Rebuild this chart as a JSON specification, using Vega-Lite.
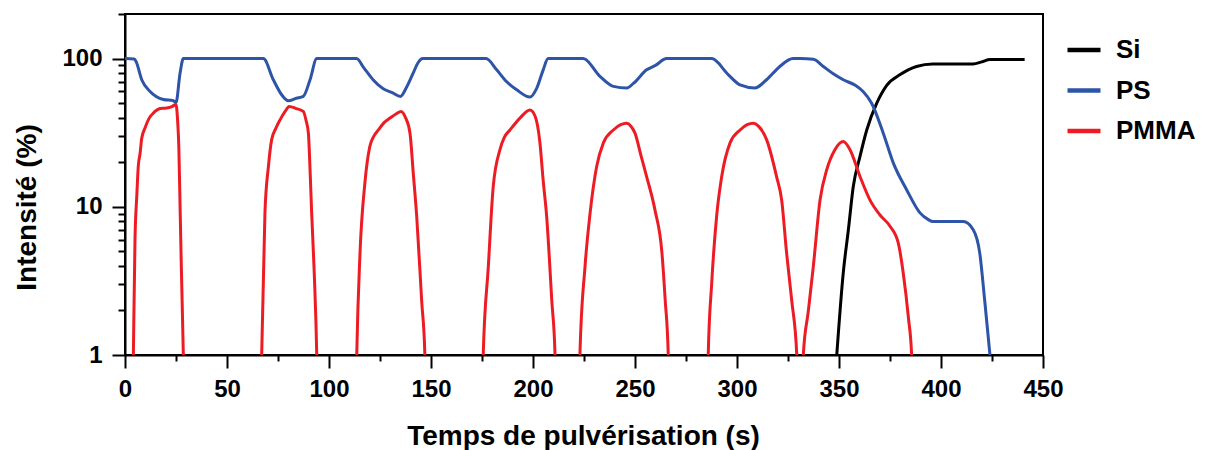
{
  "$schema": "https://vega.github.io/schema/vega-lite/v6.json",
  "width": 918,
  "height": 341,
  "autosize": {"type": "none"},
  "padding": {"left": 125, "top": 14, "right": 163, "bottom": 95},
  "background": "white",
  "config": {
    "view": {"stroke": "black", "strokeWidth": 2},
    "axis": {
      "domainColor": "black", "domainWidth": 2, "tickColor": "black", "tickWidth": 2,
      "labelFont": "Liberation Sans", "labelFontWeight": "bold", "labelFontSize": 24, "labelColor": "black",
      "titleFont": "Liberation Sans", "titleFontWeight": "bold", "titleFontSize": 28, "titleColor": "black",
      "grid": false, "labelOverlap": false, "labelFlush": false
    },
    "legend": {
      "labelFont": "Liberation Sans", "labelFontWeight": "bold", "labelFontSize": 26, "labelColor": "black"
    }
  },
  "data": {"values": [
    {"s":"Si","t":348.9,"v":1},{"s":"Si","t":352.1,"v":3.6},{"s":"Si","t":354.6,"v":7},{"s":"Si","t":357,"v":13.7},{"s":"Si","t":360.3,"v":21.9},{"s":"Si","t":363.6,"v":33},{"s":"Si","t":368.5,"v":50},{"s":"Si","t":373.4,"v":66},{"s":"Si","t":380,"v":78},{"s":"Si","t":388,"v":88.5},{"s":"Si","t":396,"v":92},{"s":"Si","t":415.7,"v":92},{"s":"Si","t":420,"v":95},{"s":"Si","t":424,"v":98.5},{"s":"Si","t":441,"v":98.5},

    {"s":"PS","t":0,"v":100},{"s":"PS","t":4.5,"v":99.5},{"s":"PS","t":5.5,"v":95},{"s":"PS","t":8.2,"v":72},{"s":"PS","t":12.3,"v":60},{"s":"PS","t":18.8,"v":53},{"s":"PS","t":23.7,"v":52},{"s":"PS","t":25,"v":50.5},{"s":"PS","t":27,"v":80},{"s":"PS","t":28.6,"v":100},
    {"s":"PS","t":67.8,"v":100},{"s":"PS","t":72.7,"v":72},{"s":"PS","t":76.8,"v":57},{"s":"PS","t":80,"v":52},{"s":"PS","t":84,"v":54},{"s":"PS","t":87.4,"v":55.6},{"s":"PS","t":90.7,"v":72},{"s":"PS","t":94,"v":100},
    {"s":"PS","t":113.5,"v":100},{"s":"PS","t":117,"v":87},{"s":"PS","t":121.6,"v":72},{"s":"PS","t":126.6,"v":62.5},{"s":"PS","t":131,"v":59},{"s":"PS","t":135,"v":55.6},{"s":"PS","t":138,"v":64},{"s":"PS","t":141.3,"v":80},{"s":"PS","t":143.5,"v":93},{"s":"PS","t":146,"v":100},
    {"s":"PS","t":177,"v":100},{"s":"PS","t":182.2,"v":84},{"s":"PS","t":187,"v":70},{"s":"PS","t":192,"v":61.6},{"s":"PS","t":198.5,"v":55},{"s":"PS","t":201.8,"v":63},{"s":"PS","t":205,"v":84},{"s":"PS","t":207.4,"v":100},
    {"s":"PS","t":224.6,"v":100},{"s":"PS","t":232.8,"v":76},{"s":"PS","t":239.4,"v":65},{"s":"PS","t":246,"v":63.4},{"s":"PS","t":249.2,"v":68},{"s":"PS","t":255.7,"v":84},{"s":"PS","t":260,"v":90},{"s":"PS","t":265.5,"v":100},
    {"s":"PS","t":287.6,"v":100},{"s":"PS","t":295.7,"v":78},{"s":"PS","t":301.5,"v":66.5},{"s":"PS","t":308.8,"v":63.4},{"s":"PS","t":314.5,"v":72},{"s":"PS","t":321,"v":88.5},{"s":"PS","t":327.5,"v":100},
    {"s":"PS","t":331,"v":100},{"s":"PS","t":337.4,"v":99},{"s":"PS","t":342.3,"v":88.5},{"s":"PS","t":347.2,"v":79},{"s":"PS","t":352.1,"v":72},{"s":"PS","t":358,"v":66},{"s":"PS","t":361.8,"v":60},{"s":"PS","t":366,"v":50},{"s":"PS","t":371.7,"v":31.4},{"s":"PS","t":376.6,"v":19.8},{"s":"PS","t":383.2,"v":13},{"s":"PS","t":389.7,"v":9.1},{"s":"PS","t":393.8,"v":8.2},{"s":"PS","t":396,"v":7.95},{"s":"PS","t":410.9,"v":7.95},{"s":"PS","t":415.8,"v":7},{"s":"PS","t":419,"v":4.87},{"s":"PS","t":421.4,"v":2.35},{"s":"PS","t":424,"v":1},

    {"s":"PMMA","t":0,"v":0.5},{"s":"PMMA","t":3.8,"v":0.5},{"s":"PMMA","t":4.1,"v":1},{"s":"PMMA","t":4.9,"v":6},{"s":"PMMA","t":5.8,"v":12},{"s":"PMMA","t":6.5,"v":18.7},{"s":"PMMA","t":7.4,"v":23},{"s":"PMMA","t":8.2,"v":29},{"s":"PMMA","t":9.8,"v":34},{"s":"PMMA","t":11.8,"v":39.5},{"s":"PMMA","t":14,"v":43},{"s":"PMMA","t":17.2,"v":46},{"s":"PMMA","t":20.4,"v":46.4},{"s":"PMMA","t":23,"v":47.5},{"s":"PMMA","t":25,"v":49},{"s":"PMMA","t":25.8,"v":38},{"s":"PMMA","t":26.4,"v":25},{"s":"PMMA","t":27,"v":10},{"s":"PMMA","t":27.6,"v":4},{"s":"PMMA","t":28.6,"v":1},{"s":"PMMA","t":29,"v":0.5},
    {"s":"PMMA","t":66.6,"v":0.5},{"s":"PMMA","t":67,"v":1},{"s":"PMMA","t":68.6,"v":9.1},{"s":"PMMA","t":70.3,"v":18.7},{"s":"PMMA","t":71.9,"v":28.4},{"s":"PMMA","t":74,"v":34},{"s":"PMMA","t":76,"v":38.6},{"s":"PMMA","t":78.5,"v":44},{"s":"PMMA","t":80.5,"v":47.5},{"s":"PMMA","t":84,"v":46},{"s":"PMMA","t":87.4,"v":44},{"s":"PMMA","t":88.8,"v":38},{"s":"PMMA","t":89.9,"v":31.4},{"s":"PMMA","t":90.7,"v":18},{"s":"PMMA","t":91.5,"v":9.1},{"s":"PMMA","t":92.8,"v":3.5},{"s":"PMMA","t":94,"v":1},{"s":"PMMA","t":94.4,"v":0.5},
    {"s":"PMMA","t":113.2,"v":0.5},{"s":"PMMA","t":113.6,"v":1},{"s":"PMMA","t":115.2,"v":4.87},{"s":"PMMA","t":117.6,"v":14.5},{"s":"PMMA","t":120,"v":25.5},{"s":"PMMA","t":122,"v":30},{"s":"PMMA","t":124.2,"v":33},{"s":"PMMA","t":127,"v":37},{"s":"PMMA","t":129.9,"v":39.7},{"s":"PMMA","t":133,"v":42.5},{"s":"PMMA","t":135.3,"v":44},{"s":"PMMA","t":137.5,"v":40},{"s":"PMMA","t":139.7,"v":31.4},{"s":"PMMA","t":141.3,"v":16.9},{"s":"PMMA","t":143,"v":8.6},{"s":"PMMA","t":145.4,"v":2.35},{"s":"PMMA","t":147,"v":1},{"s":"PMMA","t":147.4,"v":0.5},
    {"s":"PMMA","t":175.2,"v":0.5},{"s":"PMMA","t":175.6,"v":1},{"s":"PMMA","t":178.1,"v":3.95},{"s":"PMMA","t":180.5,"v":13.7},{"s":"PMMA","t":183.8,"v":24.3},{"s":"PMMA","t":186,"v":29.5},{"s":"PMMA","t":188.7,"v":33},{"s":"PMMA","t":193.6,"v":39.7},{"s":"PMMA","t":198.5,"v":45},{"s":"PMMA","t":201,"v":41},{"s":"PMMA","t":203.4,"v":27},{"s":"PMMA","t":205,"v":15},{"s":"PMMA","t":206.7,"v":8.6},{"s":"PMMA","t":209.2,"v":2.35},{"s":"PMMA","t":210.8,"v":1},{"s":"PMMA","t":211.2,"v":0.5},
    {"s":"PMMA","t":222.6,"v":0.5},{"s":"PMMA","t":223,"v":1},{"s":"PMMA","t":225.5,"v":3.95},{"s":"PMMA","t":228,"v":9.1},{"s":"PMMA","t":231.2,"v":18.7},{"s":"PMMA","t":234.5,"v":27},{"s":"PMMA","t":239.4,"v":33},{"s":"PMMA","t":243,"v":35.8},{"s":"PMMA","t":245.9,"v":36.6},{"s":"PMMA","t":248,"v":35},{"s":"PMMA","t":250,"v":31.4},{"s":"PMMA","t":253,"v":22},{"s":"PMMA","t":255.7,"v":16},{"s":"PMMA","t":259.8,"v":9.5},{"s":"PMMA","t":263.2,"v":4.9},{"s":"PMMA","t":264.8,"v":2.35},{"s":"PMMA","t":266.3,"v":1},{"s":"PMMA","t":266.7,"v":0.5},
    {"s":"PMMA","t":285.5,"v":0.5},{"s":"PMMA","t":285.9,"v":1},{"s":"PMMA","t":287.6,"v":3.05},{"s":"PMMA","t":290,"v":8.6},{"s":"PMMA","t":292.5,"v":16},{"s":"PMMA","t":296.6,"v":27},{"s":"PMMA","t":301.5,"v":33},{"s":"PMMA","t":305,"v":35.8},{"s":"PMMA","t":308,"v":36.6},{"s":"PMMA","t":310.5,"v":35},{"s":"PMMA","t":314.5,"v":28.4},{"s":"PMMA","t":319.4,"v":16},{"s":"PMMA","t":321.9,"v":11.1},{"s":"PMMA","t":324.3,"v":4.9},{"s":"PMMA","t":326.8,"v":2.35},{"s":"PMMA","t":329.3,"v":1},{"s":"PMMA","t":329.8,"v":0.5},
    {"s":"PMMA","t":332.1,"v":0.5},{"s":"PMMA","t":332.5,"v":1},{"s":"PMMA","t":335,"v":2},{"s":"PMMA","t":337.4,"v":3.95},{"s":"PMMA","t":340.7,"v":11.1},{"s":"PMMA","t":344,"v":17.8},{"s":"PMMA","t":348,"v":24.3},{"s":"PMMA","t":352.1,"v":27.6},{"s":"PMMA","t":355.4,"v":24.3},{"s":"PMMA","t":360.3,"v":16},{"s":"PMMA","t":365.2,"v":11.1},{"s":"PMMA","t":370.1,"v":8.8},{"s":"PMMA","t":375,"v":7.4},{"s":"PMMA","t":379.1,"v":5.67},{"s":"PMMA","t":381.5,"v":3.56},{"s":"PMMA","t":384,"v":1.8},{"s":"PMMA","t":385.6,"v":1},{"s":"PMMA","t":386,"v":0.5}
  ]},
  "mark": {"type": "line", "clip": true, "strokeWidth": 3, "interpolate": "monotone"},
  "encoding": {
    "x": {
      "field": "t", "type": "quantitative",
      "scale": {"domain": [0, 450], "nice": false, "zero": false},
      "axis": {
        "title": "Temps de pulvérisation (s)",
        "values": [0,25,50,75,100,125,150,175,200,225,250,275,300,325,350,375,400,425,450],
        "labelExpr": "datum.value % 50 === 0 ? datum.label : ''",
        "tickSize": {"condition": {"test": "datum.value % 50 === 0", "value": 13}, "value": 6},
        "labelPadding": 9,
        "titleX": 458, "titleY": 89, "titleBaseline": "alphabetic", "titleAnchor": "middle"
      }
    },
    "y": {
      "field": "v", "type": "quantitative",
      "scale": {"type": "log", "domain": [1, 200], "nice": false},
      "axis": {
        "title": "Intensité (%)",
        "values": [1,2,3,4,5,6,7,8,9,10,20,30,40,50,60,70,80,90,100,200],
        "labelExpr": "(datum.value == 1 || datum.value == 10 || datum.value == 100) ? ('' + datum.value) : ''",
        "tickSize": {"condition": {"test": "datum.value == 1 || datum.value == 10 || datum.value == 100", "value": 13}, "value": 7},
        "labelPadding": 10,
        "titleX": -98, "titleY": 193, "titleBaseline": "middle", "titleAlign": "center", "titleAngle": -90
      }
    },
    "color": {
      "field": "s", "type": "nominal",
      "scale": {"domain": ["Si", "PS", "PMMA"], "range": ["#000000", "#2E54A8", "#ED1C24"]},
      "legend": {
        "title": null, "orient": "none", "legendX": 940, "legendY": 17,
        "symbolType": "stroke", "symbolSize": 1089, "symbolStrokeWidth": 4.5,
        "labelOffset": 13, "rowPadding": 8.5, "padding": 0
      }
    }
  }
}
